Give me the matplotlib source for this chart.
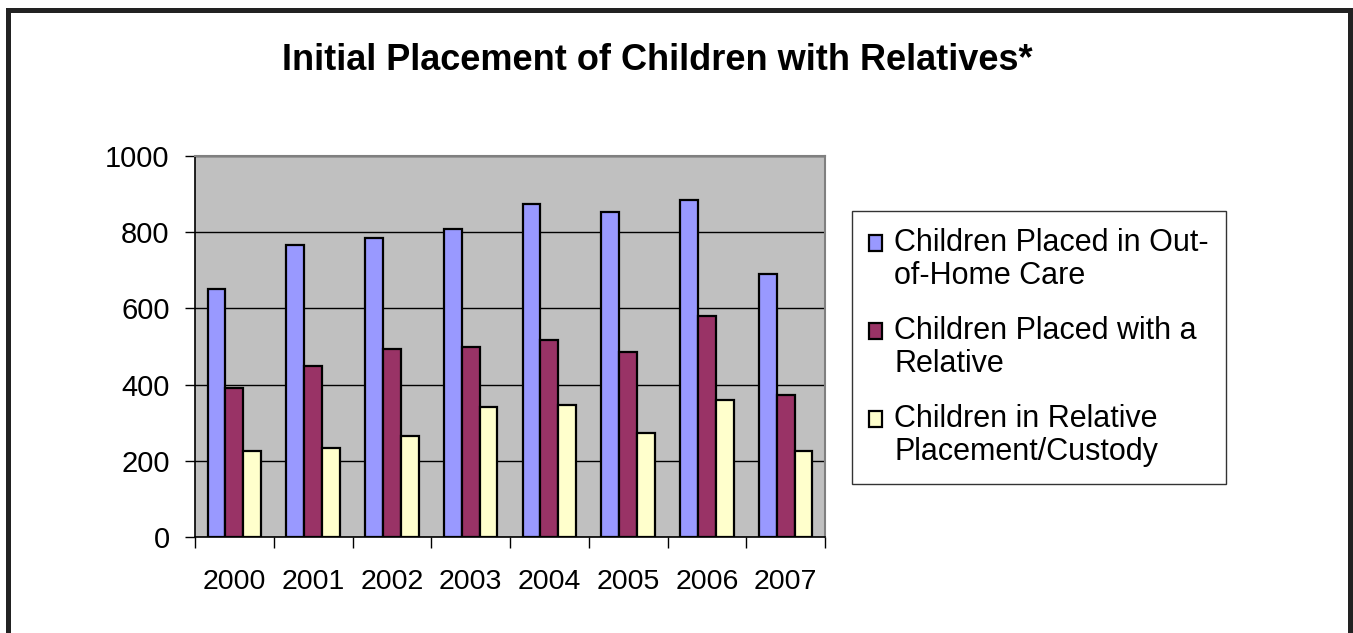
import numpy as np
import matplotlib
matplotlib.use("Agg")
import matplotlib.pyplot as plt
from matplotlib.lines import Line2D

plt.rcParams['font.family'] = ['Liberation Sans', 'DejaVu Sans']

years = ["2000", "2001", "2002", "2003", "2004", "2005", "2006", "2007"]
out_of_home = [652, 766, 785, 809, 873, 854, 885, 689]
with_relative = [391, 448, 493, 498, 517, 486, 581, 372]
relative_custody = [226, 233, 266, 341, 347, 272, 360, 226]

labels = ["Children Placed in Out-\nof-Home Care",
          "Children Placed with a\nRelative",
          "Children in Relative\nPlacement/Custody"]
colors = ["#9999FF", "#993366", "#FFFFCC"]

W, H = 1353, 633
fig = plt.figure(figsize=(W / 100, H / 100), dpi=100)
ax = fig.add_axes([195 / W, 1 - 537 / H, 630 / W, 381 / H])
ax.set_facecolor("#C0C0C0")

x = np.arange(len(years))
bw = 0.226
series = [out_of_home, with_relative, relative_custody]
for k, vals in enumerate(series):
    ax.bar(x + (k - 1) * bw, vals, bw, color=colors[k], edgecolor="black",
           linewidth=1.6, label=labels[k], zorder=3)

ax.set_xlim(-0.5, len(years) - 0.5)
ax.set_ylim(0, 1000)
ax.set_yticks([0, 200, 400, 600, 800, 1000])
ax.yaxis.grid(True, color="black", linewidth=1.0, zorder=1)
ax.set_axisbelow(True)

# ticks between the years, labels at the centres
ax.set_xticks(np.arange(-0.5, len(years)), labels=[])
ax.set_xticks(x, labels=years, minor=True)
ax.tick_params(axis="x", which="major", length=8, width=1, color="black", direction="out")
ax.tick_params(axis="x", which="minor", length=0, pad=23, labelsize=20.5)
ax.tick_params(axis="y", length=7.2, width=1, direction="out", pad=11, labelsize=21)

for s in ["left", "bottom"]:
    ax.spines[s].set_color("black")
    ax.spines[s].set_linewidth(1.2)
for s in ["top", "right"]:
    ax.spines[s].set_color("#808080")
    ax.spines[s].set_linewidth(1.5)

fig.text(657 / W, 1 - 61 / H, "Initial Placement of Children with Relatives*",
         ha="center", va="center", fontsize=26, fontweight="bold")

leg = fig.legend(loc="upper left", bbox_to_anchor=(852 / W, 1 - 211 / H),
                 fontsize=22, frameon=True, fancybox=False, edgecolor="black",
                 handlelength=0.42, handleheight=0.42, handletextpad=0.42,
                 borderpad=0.55, labelspacing=0.8, borderaxespad=0)
leg.get_frame().set_linewidth(1.0)
for t in leg.get_texts():
    t.set_linespacing(1.155)

# move each legend square up to the first line of its label
fig.canvas.draw()
r = fig.canvas.get_renderer()
probe = fig.text(0, 0, "Relative", fontsize=22)
h1 = probe.get_window_extent(r).height
probe.remove()
h2 = leg.get_texts()[0].get_window_extent(r).height
shift = (h2 - h1) * 72 / fig.dpi - 11.5
for hd in leg.legend_handles:
    hd.set_y(hd.get_y() + shift)

# outer frame
fig.add_artist(Line2D([8 / W, 8 / W], [0, 1 - 10 / H], color="#222222", linewidth=3.6))
fig.add_artist(Line2D([8 / W, 1350 / W], [1 - 10 / H, 1 - 10 / H], color="#222222", linewidth=3.6))
fig.add_artist(Line2D([1350 / W, 1350 / W], [0, 1 - 10 / H], color="#222222", linewidth=3.6))

fig.savefig("out.png", dpi=100)
